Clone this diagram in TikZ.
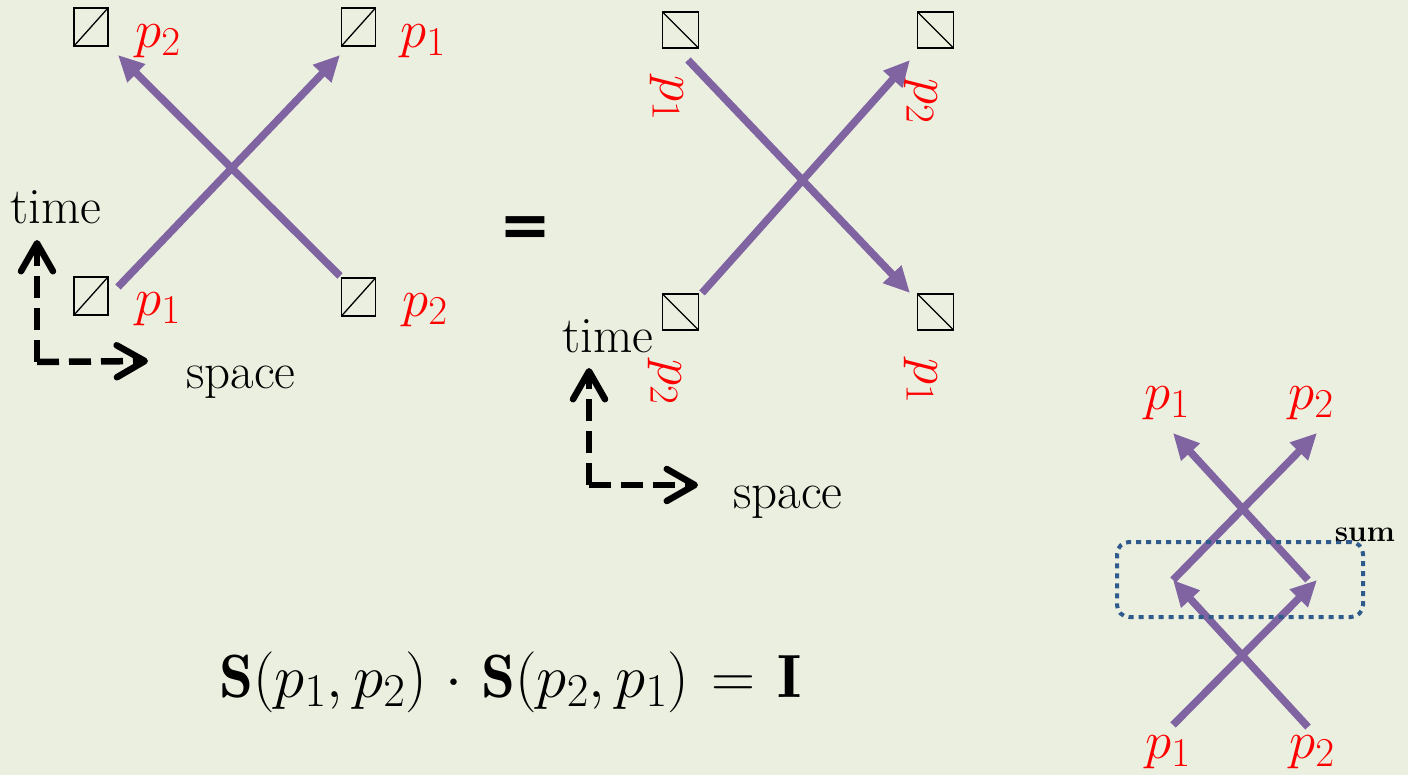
\RequirePackage{fix-cm}
\documentclass[tikz,border=0pt]{standalone}
\usepackage{amsmath,amssymb}
\usepackage{fontspec}
\usepackage{tikz}
\usetikzlibrary{arrows.meta,calc,positioning}
\newfontfamily\signfont{DejaVu Sans}
\definecolor{ScatBg}{HTML}{EBEFE0}
\definecolor{ScatPurple}{HTML}{8064A2}
\definecolor{ScatRed}{HTML}{FF0000}
\definecolor{ScatDots}{HTML}{2F5B8C}
\DeclareMathSizes{53}{53}{41}{30}
\DeclareMathSizes{61}{61}{47}{34}

\begin{document}
\begin{tikzpicture}[x=1pt,y=-1pt,
  site/.style={draw,line width=1.5pt,inner sep=0pt,minimum width=34pt,minimum height=38pt,
    path picture={\draw[line width=1.3pt] (path picture bounding box.south west)--(path picture bounding box.north east);}},
  rsite/.style={draw,line width=1.5pt,inner sep=0pt,minimum size=36pt,
    path picture={\draw[line width=1.3pt] (path picture bounding box.north west)--(path picture bounding box.south east);}},
  mom/.style={text=ScatRed,inner sep=0pt,font=\fontsize{53}{60}\selectfont},
  world/.style={ScatPurple,line width=7.5pt,-{Triangle[length=26pt,width=24pt]}},
  axis/.style={line width=6.5pt,dash pattern=on 22pt off 10pt,-{Straight Barb[length=28pt,width=32pt,round]}},
  word/.style={inner sep=0pt,font=\fontsize{51}{56}\selectfont}]
  \path[use as bounding box,fill=ScatBg] (0,0) rectangle (1408,775);

  % left: S(p1,p2)
  \node[site] (ltl) at (91,27) {};
  \node[site] (ltr) at (358.5,27) {};
  \node[site] (lbl) at (91,296) {};
  \node[site] (lbr) at (358.5,297) {};
  \node[mom] (lptl) at (158,41) {$p_2$};
  \node[mom] (lptr) at (423,41) {$p_1$};
  \node[mom] (lpbl) at (158,309) {$p_1$};
  \node[mom] (lpbr) at (425,310) {$p_2$};
  \coordinate (la) at (118,287);
  \coordinate (lb) at (340,55);
  \coordinate (lc) at (340,276);
  \coordinate (ld) at (118,55);
  \draw[world] (la) -- (lb);
  \draw[world] (lc) -- (ld);
  \coordinate (lo) at (37,362);
  \coordinate (lt) at (37,240);
  \coordinate (lx) at (148,361);
  \draw[axis] (lo) -- (lt);
  \draw[axis] (lo) -- (lx);
  \node[word] (ltime) at (56,207) {time};
  \node[word] (lspace) at (241,382) {space};

  \node[inner sep=0pt,font=\signfont\bfseries\fontsize{62}{62}\selectfont] (eq) at (525,232) {=};

  % middle: S(p2,p1)
  \node[rsite] (mtl) at (680.5,30) {};
  \node[rsite] (mtr) at (935.5,30) {};
  \node[rsite] (mbl) at (680.5,312) {};
  \node[rsite] (mbr) at (935.5,312) {};
  \node[mom,rotate=-90] (mptl) at (667,98) {$p_1$};
  \node[mom,rotate=-90] (mptr) at (921,101) {$p_2$};
  \node[mom,rotate=-90] (mpbl) at (665,382) {$p_2$};
  \node[mom,rotate=-90] (mpbr) at (921,381) {$p_1$};
  \coordinate (ma) at (688,60);
  \coordinate (mb) at (910,293);
  \coordinate (mc) at (702,293);
  \coordinate (md) at (910,60);
  \draw[world] (ma) -- (mb);
  \draw[world] (mc) -- (md);
  \coordinate (mo) at (589,485);
  \coordinate (mt) at (589,368);
  \coordinate (mx) at (698,485);
  \draw[axis] (mo) -- (mt);
  \draw[axis] (mo) -- (mx);
  \node[word] (mtime) at (608,336) {time};
  \node[word] (mspace) at (788,502) {space};

  % unitarity
  \node[inner sep=0pt,anchor=base west,font=\fontsize{61}{66}\selectfont] (unit) at (219,697)
    {$\mathbf{S}(p_1,p_2)\mkern1.5mu\cdot\mkern1.5mu\mathbf{S}(p_2,p_1)\mkern1.5mu=\mkern1.5mu\mathbf{I}$};

  % right: two crossings
  \node[mom] (rpt1) at (1167,403) {$p_1$};
  \node[mom] (rpt2) at (1311,403) {$p_2$};
  \node[mom] (rpb1) at (1168,752) {$p_1$};
  \node[mom] (rpb2) at (1312,752) {$p_2$};
  \coordinate (r1) at (1173,725);
  \coordinate (r2) at (1308,727);
  \coordinate (r3) at (1173,580);
  \coordinate (r4) at (1317,580);
  \coordinate (r5) at (1173,433);
  \coordinate (r6) at (1317,433);
  \draw[world] (r1) -- (r4);
  \draw[world] (r2) -- (r3);
  \draw[world] (r3) -- (r6);
  \draw[world] ($(r4)+(-9,0)$) -- (r5);
  \node[draw=ScatDots,line width=4pt,dash pattern=on 5pt off 5pt,rounded corners=12pt,
    minimum width=246pt,minimum height=75pt] (sumbox) at (1240,579.5) {};
  \node[inner sep=0pt,font=\fontsize{30}{34}\selectfont\bfseries] (sumlbl) at (1365,535) {sum};
\end{tikzpicture}
\end{document}
